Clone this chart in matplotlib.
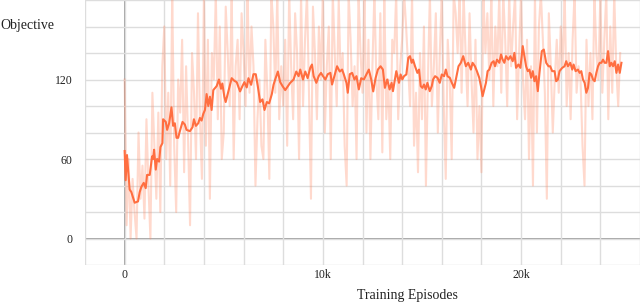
import matplotlib
matplotlib.use("Agg")
import matplotlib.pyplot as plt
from matplotlib.ticker import MultipleLocator, FixedLocator, FuncFormatter


# Raw objective, one value every 100 episodes
raw_step = 100
raw_values = [
    120, 10, 60, 0, 45, 20, 0, 80, 30, 55,
    15, 90, 40, 0, 110, 70, 30, 95, 20, 130,
    160, 60, 110, 40, 185, 70, 20, 120, 95, 150,
    50, 130, 75, 10, 140, 110, 60, 170, 90, 45,
    185, 70, 150, 30, 140, 120, 185, 90, 160, 60,
    80, 175, 140, 100, 185, 60, 130, 150, 90, 170,
    140, 100, 185, 110, 160, 130, 40, 90, 120, 70,
    60, 150, 110, 45, 185, 160, 110, 185, 90, 130,
    100, 150, 70, 185, 130, 90, 170, 140, 60, 185,
    100, 150, 185, 110, 30, 175, 140, 90, 160, 120,
    185, 80, 130, 160, 60, 185, 140, 100, 180, 120,
    140, 70, 40, 185, 150, 100, 130, 60, 185, 140,
    110, 185, 80, 150, 60, 130, 185, 120, 90, 170,
    65, 185, 90, 120, 60, 150, 140, 185, 90, 130,
    150, 185, 160, 130, 100, 185, 70, 110, 50, 140,
    90, 160, 40, 120, 185, 100, 130, 170, 80, 140,
    185, 100, 45, 150, 120, 60, 185, 170, 140, 185,
    110, 185, 140, 100, 170, 120, 80, 150, 60, 100,
    50, 185, 140, 170, 120, 185, 100, 160, 130, 185,
    110, 185, 150, 100, 185, 130, 160, 185, 90, 140,
    185, 120, 90, 150, 60, 130, 40, 185, 80, 160,
    185, 150, 110, 30, 170, 130, 80, 120, 150, 110,
    160, 130, 185, 100, 140, 90, 150, 185, 110, 130,
    120, 70, 40, 150, 100, 140, 90, 185, 140, 120,
    185, 110, 150, 185, 90, 160, 110, 185, 130, 100, 140,
]
raw_episodes = [i * raw_step for i in range(len(raw_values))]

# Smoothed objective (episode, value) pairs
smooth_episodes = [
    0, 51, 118, 253, 338, 506, 675, 759, 844, 962, 1063, 1131, 1266, 1384, 1434,
    1485, 1570, 1637, 1738, 1806, 1907, 1941, 2076, 2143, 2245, 2363, 2447, 2532,
    2616, 2700, 2785, 2920, 3038, 3122, 3291, 3426, 3494, 3595, 3713, 3797, 3882,
    3966, 4051, 4135, 4220, 4304, 4388, 4473, 4641, 4759, 4861, 4928, 5030, 5097,
    5232, 5401, 5536, 5654, 5823, 5941, 6042, 6160, 6245, 6380, 6498, 6616, 6717,
    6835, 6954, 7055, 7173, 7291, 7426, 7511, 7595, 7730, 7848, 7966, 8101, 8236,
    8354, 8523, 8658, 8776, 8861, 8996, 9114, 9232, 9367, 9451, 9536, 9671, 9789,
    9907, 10008, 10127, 10245, 10380, 10464, 10582, 10717, 10852, 10970, 11055,
    11190, 11257, 11358, 11477, 11595, 11696, 11814, 11933, 12068, 12203, 12321,
    12439, 12540, 12658, 12776, 12911, 13030, 13130, 13249, 13367, 13468, 13536,
    13637, 13705, 13840, 13924, 14008, 14093, 14211, 14312, 14397, 14481, 14549,
    14650, 14768, 14852, 14937, 15021, 15105, 15190, 15274, 15392, 15494, 15561,
    15662, 15781, 15899, 16000, 16118, 16203, 16287, 16405, 16506, 16625, 16743,
    16844, 16962, 17081, 17215, 17333, 17468, 17553, 17671, 17772, 17890, 17975,
    18059, 18143, 18228, 18312, 18397, 18515, 18616, 18684, 18785, 18903, 18987,
    19072, 19156, 19241, 19359, 19460, 19578, 19663, 19747, 19865, 19966, 20084,
    20169, 20253, 20338, 20422, 20506, 20591, 20675, 20759, 20844, 20928, 21046,
    21148, 21266, 21384, 21468, 21570, 21688, 21772, 21857, 21941, 22076, 22194,
    22278, 22363, 22481, 22582, 22650, 22751, 22869, 22954, 23038, 23122, 23207,
    23291, 23376, 23460, 23544, 23629, 23713, 23797, 23882, 23966, 24051, 24135,
    24219, 24304, 24388, 24473, 24557, 24641, 24726, 24810, 24895, 24979, 25063,
]
smooth_values = [
    66, 44, 63, 37, 35, 27, 28, 35, 39, 42, 38, 48, 48, 62, 60,
    67, 52, 60, 58, 69, 72, 90, 88, 82, 87, 99, 85, 87,
    76, 76, 81, 88, 86, 82, 81, 84, 90, 85, 87, 91, 89,
    94, 97, 109, 100, 107, 97, 112, 115, 120, 113, 117, 107, 103,
    111, 121, 119, 118, 111, 115, 118, 114, 121, 116, 124, 124, 115,
    103, 105, 97, 103, 102, 109, 116, 120, 126, 118, 115, 112, 115,
    117.5, 120, 126, 122.5, 127.5, 120, 126, 121, 129, 131.3, 122.5, 117.5, 122.5,
    125, 122.5, 120, 124, 125, 116.2, 122.5, 130, 126, 127.5, 124,
    117.5, 110, 124, 125, 120, 122.5, 112.5, 121, 120, 124, 127.5,
    120, 111, 121, 127.5, 130, 127.5, 113.7, 120, 112.5, 117.5, 111.2,
    120, 126.3, 117.5, 123.8, 120, 122.5, 123.8, 136.4, 137.6, 132.6, 135,
    130, 125, 127.5, 115, 113.7, 116.2, 112.5, 117.5, 111.2, 115, 120,
    122.5, 121.3, 117.5, 123.8, 122.5, 127.5, 122.5, 121.3, 117.5, 113.7, 122.5,
    130, 132.6, 137.6, 130, 132.6, 127.5, 132.6, 130, 126.3, 121.3, 115,
    107.4, 112.5, 117.5, 126.3, 127.5, 132.6, 133.8, 130, 135, 132.6, 138.9,
    135, 132.6, 137.6, 135, 137.6, 133.8, 140.1, 128.8, 131.3, 128.8, 145.2,
    137.6, 130, 126.3, 127.5, 121.3, 126.3, 118.7, 122.5, 111.2, 125, 141.4,
    142.6, 132.6, 130, 130, 126.3, 126.3, 118.7, 120, 126.3, 128.8, 130,
    133.8, 130, 132.6, 127.5, 131.3, 126.3, 127.5, 125, 126.3, 120, 117.5,
    110, 113.7, 125, 123.8, 120, 118.7, 125, 130, 132.6, 132.6, 135,
    132.6, 132.6, 141.4, 130, 132.6, 130, 133.8, 125, 131.3, 125, 132.6,
]

# Axis ticks
x_label_ticks = [0, 10000, 20000]
y_label_ticks = [0, 60, 120]

plt.rcParams['font.family'] = ['Liberation Serif', 'DejaVu Serif']

fig = plt.figure(figsize=(6.4, 3.05), dpi=100)
ax = fig.add_axes([85 / 640, 40 / 305, 555 / 640, 265 / 305])

# Raw curve in a pale tint, smoothed curve on top
ax.plot(raw_episodes, raw_values, color='#ff8a65', alpha=0.32, linewidth=1.5, zorder=2)
ax.plot(smooth_episodes, smooth_values, color='#ff6e40', linewidth=1.5, zorder=3)

ax.set_xlim(-2000, 26000)
ax.set_ylim(-20, 180)

# Gridlines every 2k / 20, labels only at a few of them
ax.xaxis.set_major_locator(FixedLocator(x_label_ticks))
ax.xaxis.set_minor_locator(MultipleLocator(2000))
ax.yaxis.set_major_locator(FixedLocator(y_label_ticks))
ax.yaxis.set_minor_locator(MultipleLocator(20))
ax.xaxis.set_major_formatter(FuncFormatter(lambda v, p: '0' if v == 0 else f'{int(v / 1000)}k'))
ax.grid(which='both', color='#dddddd', linewidth=1.0, zorder=0)
ax.axhline(0, color='#999999', linewidth=1.3, zorder=1)
ax.axvline(0, color='#999999', linewidth=1.3, zorder=1)

for side in ax.spines.values():
    side.set_visible(False)
ax.tick_params(which='both', length=0, labelsize=8.5, colors='#222222')
ax.tick_params(axis='y', pad=9)
ax.tick_params(axis='x', pad=3)

fig.text(0.0, 1 - 25 / 305, 'Objective', fontsize=10, ha='left', va='center', color='#222222')
fig.text(407 / 640, 1 - 296 / 305, 'Training Episodes', fontsize=10, ha='center', va='center', color='#222222')

fig.savefig('out.png', dpi=100)
